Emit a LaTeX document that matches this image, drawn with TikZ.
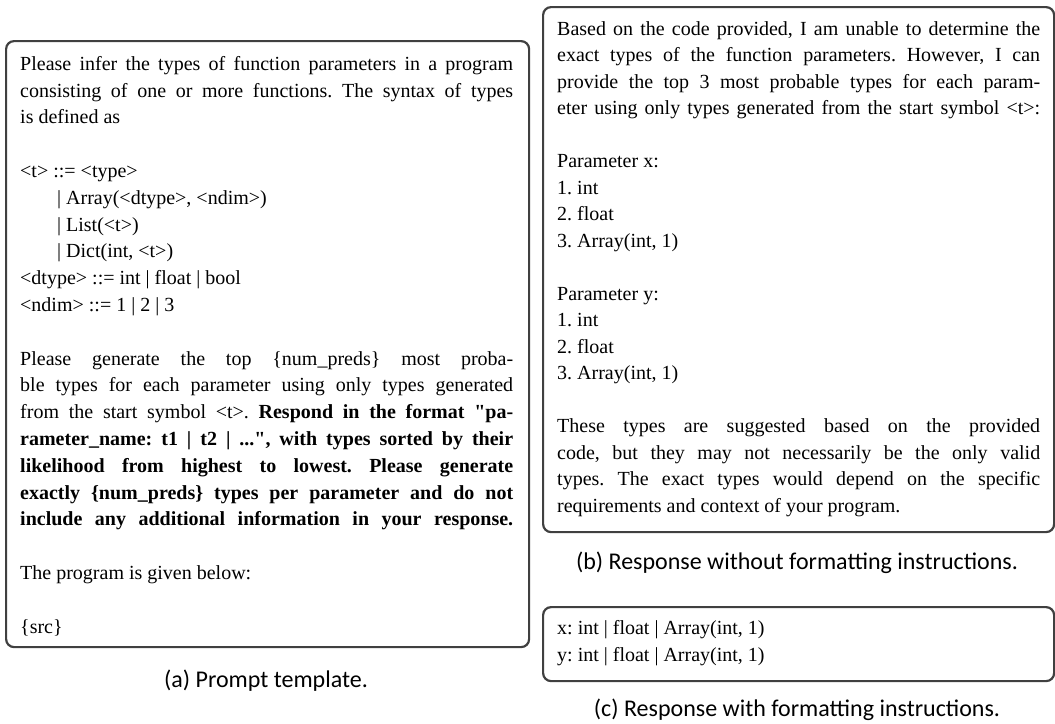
\documentclass[tikz,border=0pt]{standalone}
\usepackage{fontspec}
\setmainfont{Liberation Serif}[Ligatures=TeXOff]
\newfontfamily\capfont{Carlito}
\definecolor{panelgray}{HTML}{404040}
\newcommand{\jla}[1]{\makebox[493pt][s]{#1}}
\newcommand{\jlb}[1]{\makebox[483pt][s]{#1}}
\newcommand{\blankline}{\mbox{}}
\newcommand{\resetspaces}{\spaceskip=0pt\xspaceskip=0pt\frenchspacing\relax}
\tikzset{
  panel/.style={draw=panelgray, line width=2.2pt, rounded corners=8pt, inner sep=0pt, anchor=north west},
  bodytext/.style={anchor=north west, inner sep=0pt, align=left},
  captext/.style={font=\capfont\fontsize{24}{28}\selectfont, inner sep=0pt}
}
\begin{document}
\frenchspacing
\begin{tikzpicture}[x=1pt,y=-1pt]
\useasboundingbox (0,0) rectangle (1055,723);
% panels
\node[panel, minimum width=523pt, minimum height=606pt] (boxa) at (5,40) {};
\node[panel, minimum width=511pt, minimum height=525pt] (boxb) at (542,6) {};
\node[panel, minimum width=511pt, minimum height=74pt] (boxc) at (542,606) {};
% panel a text
\node[bodytext, text width=493pt, font=\fontsize{20}{26.8}\selectfont] (texta) at (20,51.3) {\resetspaces
\strut\jla{Please infer the types of function parameters in a program}\\
\jla{consisting of one or more functions. The syntax of types}\\
is defined as\\
\blankline\\
<t> ::= <type>\\
\hspace*{37pt}| Array(<dtype>, <ndim>)\\
\hspace*{37pt}| List(<t>)\\
\hspace*{37pt}| Dict(int, <t>)\\
<dtype> ::= int | float | bool\\
<ndim> ::= 1 | 2 | 3\\
\blankline\\
\jla{Please generate the top \{num\_preds\} most proba-}\\
\jla{ble types for each parameter using only types generated}\\
\jla{from the start symbol <t>. \textbf{Respond in the format "pa-}}\\
\jla{\textbf{rameter\_name: t1 | t2 | ...", with types sorted by their}}\\
\jla{\textbf{likelihood from highest to lowest. Please generate}}\\
\jla{\textbf{exactly \{num\_preds\} types per parameter and do not}}\\
\jla{\textbf{include any additional information in your response.}}\\
\blankline\\
The program is given below:\\
\blankline\\
\{src\}};
% panel b text
\node[bodytext, text width=483pt, font=\fontsize{20}{26.5}\selectfont] (textb) at (557,16.5) {\resetspaces
\strut\jlb{Based on the code provided, I am unable to determine the}\\
\jlb{exact types of the function parameters. However, I can}\\
\jlb{provide the top 3 most probable types for each param-}\\
\jlb{eter using only types generated from the start symbol <t>:}\\
\blankline\\
Parameter x:\\
1. int\\
2. float\\
3. Array(int, 1)\\
\blankline\\
Parameter y:\\
1. int\\
2. float\\
3. Array(int, 1)\\
\blankline\\
\jlb{These types are suggested based on the provided}\\
\jlb{code, but they may not necessarily be the only valid}\\
\jlb{types. The exact types would depend on the specific}\\
requirements and context of your program.};
% panel c text
\node[bodytext, text width=483pt, font=\fontsize{20}{27.5}\selectfont] (textc) at (557,615) {\resetspaces
\strut x: int | float | Array(int, 1)\\
y: int | float | Array(int, 1)};
% captions
\node[captext] (capa) at (266,681) {(a) Prompt template.};
\node[captext] (capb) at (797,563) {(b) Response without formatting instructions.};
\node[captext] (capc) at (797,710) {(c) Response with formatting instructions.};
\end{tikzpicture}
\end{document}
